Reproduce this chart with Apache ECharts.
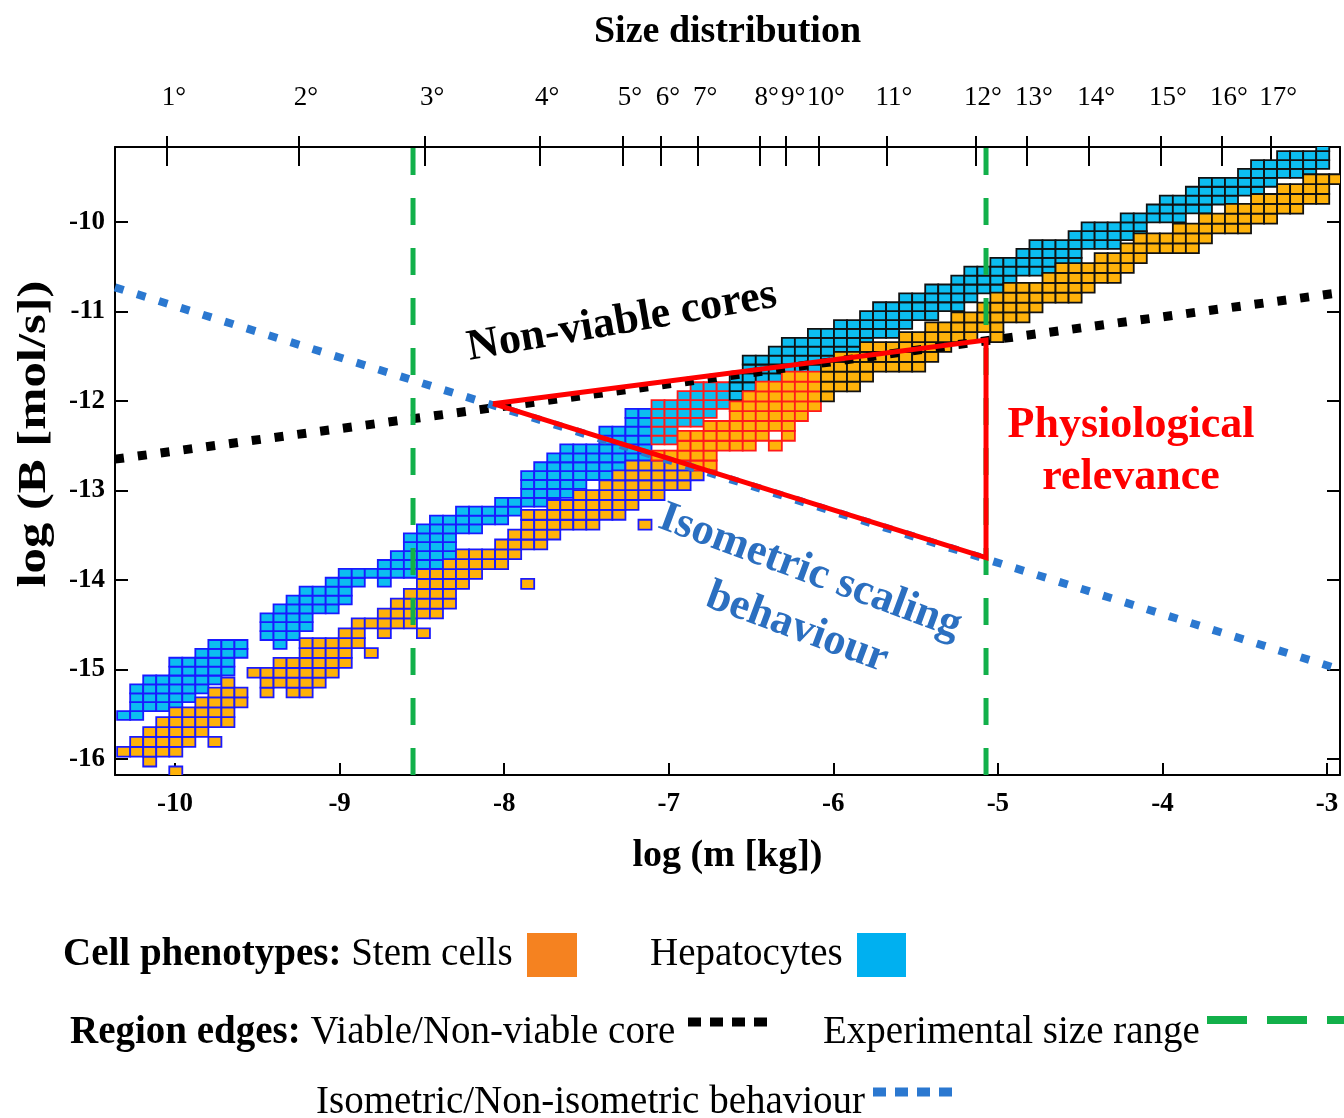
<!DOCTYPE html>
<html>
<head>
<meta charset="utf-8">
<script src="https://cdn.jsdelivr.net/npm/echarts@6/dist/echarts.min.js"></script>
<style>
  html, body { margin: 0; background: #fff; }
  #chart { width: 1344px; height: 1118px; }
</style>
</head>
<body>
<div id="chart"></div>
<script>
// axis ranges
const xMin = -10.365, xMax = -2.921
const yMin = -16.179, yMax = -9.162
const xTicks = [-10, -9, -8, -7, -6, -5, -4, -3]
const yTicks = [-16, -15, -14, -13, -12, -11, -10]

// size distribution (top axis)
const degTicks = [-10.049, -9.247, -8.481, -7.782, -7.278, -7.047, -6.822, -6.448, -6.287,
  -6.087, -5.674, -5.133, -4.823, -4.446, -4.009, -3.638, -3.340]
const degLabels = ['1°', '2°', '3°', '4°', '5°', '6°', '7°', '8°', '9°', '10°', '11°', '12°',
  '13°', '14°', '15°', '16°', '17°']

// histogram bins
const colX0 = -10.352, colStep = 0.0792
const stemY0 = -15.974, stemStep = 0.1103
const hepY0 = -15.564, hepStep = 0.0993

// [column, first row, last row]
const hepRuns = [
  [0, 0, 0], [1, 0, 3], [2, 1, 4], [3, 1, 4], [4, 1, 6], [5, 2, 6], [6, 3, 7], [7, 4, 8], [8, 5, 8], [9, 7, 8],
  [11, 9, 11], [12, 8, 12], [13, 9, 13], [14, 10, 14], [15, 12, 14], [16, 12, 15], [17, 13, 16], [18, 15, 16],
  [19, 16, 16], [20, 15, 17], [21, 16, 18], [22, 16, 20], [23, 17, 21], [24, 17, 22], [25, 17, 22], [26, 21, 23],
  [27, 21, 23], [28, 22, 23], [29, 22, 24], [30, 23, 24], [31, 24, 27], [32, 24, 28], [33, 24, 29], [34, 25, 30],
  [35, 26, 30], [36, 27, 30], [37, 27, 32], [38, 28, 32], [39, 28, 34], [40, 29, 34], [41, 31, 35], [42, 31, 35],
  [43, 33, 36], [44, 33, 37], [45, 34, 37], [46, 35, 37], [47, 36, 38], [48, 36, 40], [49, 36, 40], [50, 37, 41],
  [51, 38, 42], [52, 38, 42], [53, 39, 43], [54, 39, 43], [55, 41, 44], [56, 41, 44], [57, 42, 45], [58, 43, 46],
  [59, 43, 46], [60, 44, 47], [61, 45, 47], [62, 45, 48], [63, 46, 48], [64, 46, 49], [65, 47, 50], [66, 48, 50],
  [67, 48, 51], [68, 49, 51], [69, 50, 52], [70, 50, 53], [71, 50, 53], [72, 51, 53], [73, 51, 54], [74, 53, 55],
  [75, 53, 55], [76, 53, 55], [77, 54, 56], [78, 54, 56], [79, 56, 57], [80, 56, 58], [81, 56, 58], [82, 57, 59],
  [83, 57, 60], [84, 58, 60], [85, 58, 60], [86, 59, 61], [87, 59, 62], [88, 60, 62], [89, 61, 63], [90, 61, 63],
  [91, 61, 63], [92, 62, 64]
]
const stemRuns = [
  [0, 0, 0], [1, 0, 1], [2, -1, 2], [3, 0, 3], [4, 0, 4], [4, -2, -2], [5, 1, 4], [6, 2, 5], [7, 3, 6], [7, 1, 1],
  [8, 3, 7], [9, 5, 6], [10, 8, 8], [11, 6, 8], [12, 7, 9], [13, 6, 9], [14, 6, 11], [15, 7, 11], [16, 8, 11],
  [17, 9, 12], [18, 11, 13], [19, 13, 13], [19, 10, 10], [20, 12, 14], [21, 13, 15], [22, 13, 16], [23, 14, 18],
  [23, 12, 12], [24, 14, 18], [25, 15, 19], [26, 17, 20], [27, 18, 20], [28, 19, 20], [29, 19, 21], [30, 20, 22],
  [31, 21, 24], [31, 17, 17], [32, 21, 24], [33, 22, 25], [34, 23, 25], [35, 23, 26], [36, 23, 26], [37, 24, 27],
  [38, 24, 28], [39, 25, 29], [40, 26, 29], [40, 23, 23], [41, 26, 30], [42, 27, 30], [43, 27, 32], [44, 28, 32],
  [45, 29, 33], [46, 31, 33], [47, 31, 35], [48, 31, 36], [49, 32, 37], [50, 33, 37], [50, 31, 31], [51, 32, 38],
  [52, 34, 38], [53, 35, 38], [54, 36, 39], [55, 37, 40], [56, 37, 40], [57, 38, 41], [58, 39, 41], [59, 39, 41],
  [60, 39, 42], [61, 39, 42], [62, 40, 43], [63, 41, 43], [64, 42, 44], [65, 42, 44], [66, 43, 45], [67, 42, 46],
  [68, 44, 47], [69, 44, 47], [70, 45, 47], [71, 46, 48], [72, 46, 49], [73, 46, 49], [74, 47, 49], [75, 48, 50],
  [76, 48, 50], [77, 49, 51], [78, 50, 52], [79, 51, 52], [80, 51, 52], [81, 51, 53], [82, 51, 53], [83, 52, 54],
  [84, 53, 54], [85, 53, 55], [86, 53, 55], [87, 54, 56], [88, 54, 56], [89, 55, 57], [90, 55, 57], [91, 56, 58],
  [92, 56, 58], [93, 58, 58]
]

// region edges
const viableLine = [[-10.365, -12.65], [-2.921, -10.79]]
const isoLine = [[-10.365, -10.73], [-2.921, -15.0]]
const expRange = [-8.554, -5.072]
const relevance = [[-8.068, -12.03], [-5.072, -11.32], [-5.072, -13.75], [-8.068, -12.03]]

const serif = 'Liberation Serif'
const BLUE_EDGE = '#1a1aff', RED_EDGE = '#ff1a1a', BLACK_EDGE = '#111'

function expandCells(runs, y0, step) {
  const out = []
  runs.forEach(([col, lo, hi]) => {
    for (let r = lo; r <= hi; r++) out.push([colX0 + col * colStep, y0 + r * step, col])
  })
  return out
}

function isoAt(x) {
  const [a, b] = isoLine
  return a[1] + (b[1] - a[1]) * (x - a[0]) / (b[0] - a[0])
}

function hepEdge(col) {
  if (col <= 40) return BLUE_EDGE
  if (col <= 46) return RED_EDGE
  return BLACK_EDGE
}
function stemEdge(col, x, yc) {
  if (col <= 40) return BLUE_EDGE
  if (col <= 53) return yc > isoAt(x) ? RED_EDGE : BLUE_EDGE
  return BLACK_EDGE
}

function cellItem(step, fill, edgeOf) {
  return function (params, api) {
    const x = api.value(0), y = api.value(1), col = api.value(2)
    const a = api.coord([x, y + step])
    const b = api.coord([x + colStep, y])
    return {
      type: 'rect',
      shape: { x: a[0], y: a[1], width: b[0] - a[0], height: b[1] - a[1] },
      style: { fill: fill, stroke: edgeOf(col, x + colStep / 2, y + step / 2), lineWidth: 1.8 }
    }
  }
}

const chart = echarts.init(document.getElementById('chart'))

const legendRich = {
  b: { font: 'bold 39px "Liberation Serif"', fill: '#000' },
  n: { font: '39px "Liberation Serif"', fill: '#000' }
}

const option = {
  animation: false,
  backgroundColor: '#fff',
  grid: { left: 115, right: 4, top: 147, bottom: 343, outerBoundsMode: 'none' },
  xAxis: [
    {
      type: 'value', position: 'bottom', min: xMin, max: xMax,
      axisLine: { lineStyle: { color: '#000', width: 2 } },
      axisTick: { inside: true, length: 12, customValues: xTicks, lineStyle: { color: '#000', width: 2 } },
      axisLabel: { customValues: xTicks, margin: 16, color: '#000', fontFamily: serif, fontWeight: 'bold', fontSize: 27 },
      splitLine: { show: false },
      name: 'log (m [kg])', nameLocation: 'middle', nameGap: 62,
      nameTextStyle: { color: '#000', fontFamily: serif, fontWeight: 'bold', fontSize: 38 }
    },
    {
      type: 'value', position: 'top', min: xMin, max: xMax,
      axisLine: { lineStyle: { color: '#000', width: 2 } },
      axisTick: { inside: false, length: 11, customValues: degTicks, lineStyle: { color: '#000', width: 2 } },
      axisLabel: {
        customValues: degTicks, margin: 36, color: '#000', fontFamily: serif, fontSize: 27,
        padding: [0, 0, 0, 14],
        formatter: v => {
          const i = degTicks.findIndex(t => Math.abs(t - v) < 1e-6)
          return i >= 0 ? degLabels[i] : ''
        }
      },
      splitLine: { show: false },
      name: 'Size distribution', nameLocation: 'middle', nameGap: 96,
      nameTextStyle: { color: '#000', fontFamily: serif, fontWeight: 'bold', fontSize: 38 }
    },
    {
      type: 'value', position: 'top', min: xMin, max: xMax,
      axisLine: { show: false },
      axisTick: { inside: true, length: 19, customValues: degTicks, lineStyle: { color: '#000', width: 2 } },
      axisLabel: { show: false },
      splitLine: { show: false }
    }
  ],
  yAxis: [
    {
      type: 'value', position: 'left', min: yMin, max: yMax,
      axisLine: { lineStyle: { color: '#000', width: 2 } },
      axisTick: { inside: true, length: 13, customValues: yTicks, lineStyle: { color: '#000', width: 2 } },
      axisLabel: { customValues: yTicks, margin: 10, color: '#000', fontFamily: serif, fontWeight: 'bold', fontSize: 27 },
      splitLine: { show: false }
    },
    {
      type: 'value', position: 'right', min: yMin, max: yMax,
      axisLine: { lineStyle: { color: '#000', width: 2 } },
      axisTick: { inside: true, length: 13, customValues: yTicks, lineStyle: { color: '#000', width: 2 } },
      axisLabel: { show: false },
      splitLine: { show: false }
    }
  ],
  series: [
    {
      name: 'Hepatocytes', type: 'custom', clip: true, z: 2, silent: true,
      renderItem: cellItem(hepStep, '#0cbdf0', hepEdge),
      data: expandCells(hepRuns, hepY0, hepStep)
    },
    {
      name: 'Stem cells', type: 'custom', clip: true, z: 3, silent: true,
      renderItem: cellItem(stemStep, '#ffb20a', stemEdge),
      data: expandCells(stemRuns, stemY0, stemStep)
    },
    {
      name: 'Viable/Non-viable core', type: 'line', z: 4, showSymbol: false, silent: true,
      data: viableLine,
      lineStyle: { color: '#000', width: 9, type: [9, 14], cap: 'butt' }
    },
    {
      name: 'Isometric/Non-isometric behaviour', type: 'line', z: 4, showSymbol: false, silent: true,
      data: isoLine,
      lineStyle: { color: '#2b78d0', width: 8, type: [9, 14], cap: 'butt' }
    },
    {
      name: 'Experimental size range', type: 'line', z: 5, showSymbol: false, silent: true,
      data: [[expRange[0], yMin], [expRange[0], yMax]],
      lineStyle: { color: '#12b04a', width: 5, type: [27, 23], cap: 'butt' }
    },
    {
      name: 'Experimental size range', type: 'line', z: 5, showSymbol: false, silent: true,
      data: [[expRange[1], yMin], [expRange[1], yMax]],
      lineStyle: { color: '#12b04a', width: 5, type: [27, 23], cap: 'butt' }
    },
    {
      name: 'Physiological relevance', type: 'line', z: 6, showSymbol: false, silent: true,
      data: relevance,
      lineStyle: { color: '#ff0000', width: 5, join: 'miter' }
    }
  ],
  graphic: [
    // y axis title, stretched along its length like the original
    {
      type: 'text', x: 35, y: 434, rotation: Math.PI / 2, scaleX: 1.3,
      style: { text: 'log (B [mol/s])', fill: '#000', font: 'bold 39px "Liberation Serif"', align: 'center', verticalAlign: 'middle' }
    },
    // annotations inside the plot
    {
      type: 'text', x: 622, y: 322, rotation: 0.172, z: 10,
      style: { text: 'Non-viable cores', fill: '#000', font: 'bold 44px "Liberation Serif"', align: 'center', verticalAlign: 'middle' }
    },
    {
      type: 'text', x: 1131, y: 426, z: 10,
      style: { text: 'Physiological', fill: '#ff0000', font: 'bold 44px "Liberation Serif"', align: 'center', verticalAlign: 'middle' }
    },
    {
      type: 'text', x: 1131, y: 478, z: 10,
      style: { text: 'relevance', fill: '#ff0000', font: 'bold 44px "Liberation Serif"', align: 'center', verticalAlign: 'middle' }
    },
    {
      type: 'text', x: 810, y: 572, rotation: -0.356, z: 10,
      style: { text: 'Isometric scaling', fill: '#2b6fc0', font: 'bold 44px "Liberation Serif"', align: 'center', verticalAlign: 'middle' }
    },
    {
      type: 'text', x: 797, y: 628, rotation: -0.356, z: 10,
      style: { text: 'behaviour', fill: '#2b6fc0', font: 'bold 44px "Liberation Serif"', align: 'center', verticalAlign: 'middle' }
    },
    // legend
    {
      type: 'text', x: 63, y: 955,
      style: { text: '{b|Cell phenotypes: }{n|Stem cells}', verticalAlign: 'middle', rich: legendRich }
    },
    { type: 'rect', shape: { x: 527, y: 933, width: 50, height: 44 }, style: { fill: '#f58220' } },
    {
      type: 'text', x: 650, y: 955,
      style: { text: 'Hepatocytes', font: '39px "Liberation Serif"', fill: '#000', verticalAlign: 'middle' }
    },
    { type: 'rect', shape: { x: 857, y: 933, width: 49, height: 44 }, style: { fill: '#00b0f0' } },
    {
      type: 'text', x: 70, y: 1033,
      style: { text: '{b|Region edges: }{n|Viable/Non-viable core}', verticalAlign: 'middle', rich: legendRich }
    },
    {
      type: 'line', shape: { x1: 688, y1: 1022, x2: 770, y2: 1022 },
      style: { stroke: '#000', lineWidth: 9, lineDash: [13, 9] }
    },
    {
      type: 'text', x: 823, y: 1033,
      style: { text: 'Experimental size range', font: '39px "Liberation Serif"', fill: '#000', verticalAlign: 'middle' }
    },
    {
      type: 'line', shape: { x1: 1207, y1: 1020, x2: 1344, y2: 1020 },
      style: { stroke: '#12b04a', lineWidth: 8, lineDash: [40, 20] }
    },
    {
      type: 'text', x: 316, y: 1103,
      style: { text: 'Isometric/Non-isometric behaviour', font: '39px "Liberation Serif"', fill: '#000', verticalAlign: 'middle' }
    },
    {
      type: 'line', shape: { x1: 873, y1: 1092, x2: 955, y2: 1092 },
      style: { stroke: '#2b78d0', lineWidth: 9, lineDash: [13, 9] }
    }
  ]
}

chart.setOption(option)
</script>
</body>
</html>
